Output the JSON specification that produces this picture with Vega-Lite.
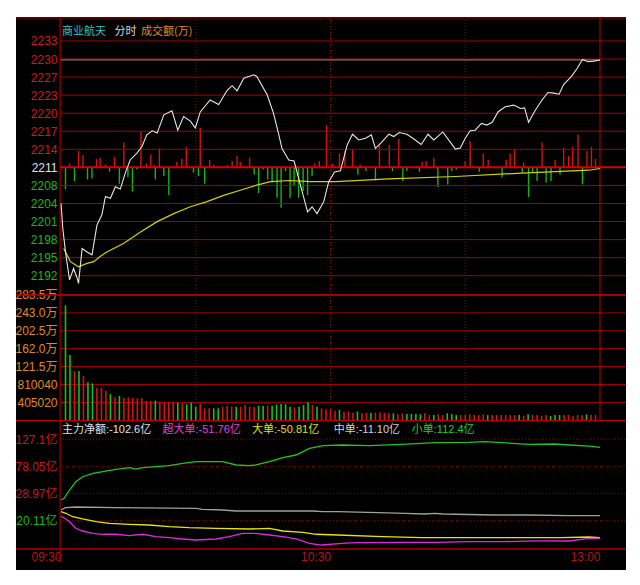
{
"$schema": "https://vega.github.io/schema/vega-lite/v6.json",
"background": "#ffffff",
"padding": {"left": 14, "top": 17, "right": 16, "bottom": 15},
"spacing": 0,
"bounds": "flush",
"resolve": {"scale": {"color": "independent"}},
"config": {"view": {"stroke": null, "fill": "#000000"}, "concat": {"spacing": 0},
 "axis": {"labelOverlap": false, "labelFlush": false, "grid": false, "ticks": false, "domain": false, "title": null, "labelBound": false}},
"datasets": {
"price": [{"m":0,"y":2204.5},{"m":0.4,"y":2200.1},{"m":1,"y":2196.0},{"m":1.9,"y":2191.1},{"m":2.8,"y":2193.1},{"m":3.6,"y":2191.4},{"m":3.9,"y":2190.5},{"m":4.7,"y":2196.6},{"m":5.8,"y":2196.0},{"m":6.9,"y":2195.5},{"m":8,"y":2200.7},{"m":9.1,"y":2202.5},{"m":9.9,"y":2205.7},{"m":11,"y":2205.4},{"m":12.1,"y":2207.4},{"m":13.2,"y":2207.0},{"m":14.3,"y":2209.8},{"m":15.4,"y":2212.1},{"m":16.9,"y":2213.3},{"m":18,"y":2214.4},{"m":19.1,"y":2216.5},{"m":20.3,"y":2217.2},{"m":21.4,"y":2216.8},{"m":22.9,"y":2220.0},{"m":24.7,"y":2220.7},{"m":26,"y":2217.3},{"m":27.3,"y":2219.7},{"m":28.8,"y":2218.9},{"m":29.9,"y":2217.7},{"m":31,"y":2220.5},{"m":33.2,"y":2222.6},{"m":35.1,"y":2221.8},{"m":37,"y":2224.3},{"m":38.1,"y":2225.1},{"m":39.2,"y":2224.2},{"m":40.7,"y":2226.4},{"m":42.9,"y":2227.0},{"m":43.6,"y":2226.7},{"m":45.9,"y":2223.5},{"m":47.3,"y":2220.3},{"m":48.5,"y":2216.5},{"m":49.2,"y":2214.1},{"m":50.7,"y":2212.1},{"m":51.9,"y":2211.9},{"m":53.3,"y":2207.7},{"m":54.9,"y":2203.0},{"m":55.9,"y":2203.9},{"m":57,"y":2202.7},{"m":58.5,"y":2204.8},{"m":59.6,"y":2208.3},{"m":60.9,"y":2210.0},{"m":62.2,"y":2210.2},{"m":63.7,"y":2214.7},{"m":64.9,"y":2216.6},{"m":66.3,"y":2215.6},{"m":67.8,"y":2215.9},{"m":69.1,"y":2216.5},{"m":70,"y":2214.1},{"m":71.5,"y":2215.3},{"m":73,"y":2216.6},{"m":74.1,"y":2216.2},{"m":75.3,"y":2216.9},{"m":77,"y":2216.6},{"m":78.5,"y":2215.8},{"m":80.2,"y":2214.8},{"m":81.7,"y":2216.6},{"m":83,"y":2215.6},{"m":85,"y":2217.0},{"m":86.3,"y":2215.6},{"m":87.8,"y":2214.0},{"m":88.9,"y":2214.2},{"m":90,"y":2215.9},{"m":91.1,"y":2217.2},{"m":92.2,"y":2217.3},{"m":93.6,"y":2218.5},{"m":94.8,"y":2218.2},{"m":96,"y":2218.7},{"m":97.3,"y":2220.5},{"m":98.9,"y":2221.4},{"m":100.8,"y":2221.7},{"m":102.3,"y":2221.1},{"m":103.2,"y":2221.2},{"m":104.1,"y":2218.7},{"m":105.6,"y":2220.8},{"m":107.1,"y":2222.6},{"m":108.4,"y":2223.9},{"m":109.7,"y":2223.8},{"m":110.9,"y":2223.6},{"m":111.9,"y":2225.3},{"m":113.6,"y":2226.7},{"m":114.9,"y":2228.1},{"m":116.1,"y":2229.7},{"m":117.3,"y":2229.3},{"m":118.6,"y":2229.4},{"m":120,"y":2229.6}],
"avg": [{"m":0.6,"y":2196.6},{"m":2.1,"y":2194.3},{"m":3.9,"y":2193.4},{"m":5.8,"y":2194.0},{"m":7.3,"y":2194.3},{"m":8.7,"y":2195.2},{"m":10.2,"y":2196.0},{"m":14,"y":2197.5},{"m":17.7,"y":2199.5},{"m":21.4,"y":2201.3},{"m":25.1,"y":2202.7},{"m":28.8,"y":2203.9},{"m":32.5,"y":2204.8},{"m":36.2,"y":2205.9},{"m":39.9,"y":2206.8},{"m":43.6,"y":2207.7},{"m":46.6,"y":2208.3},{"m":51,"y":2208.5},{"m":55.5,"y":2208.3},{"m":61.1,"y":2208.3},{"m":73,"y":2208.8},{"m":87.8,"y":2209.2},{"m":102.6,"y":2209.8},{"m":117.5,"y":2210.3},{"m":120,"y":2210.6}],
"pgrid": [{"y":2191.84},{"y":2195.0},{"y":2198.16},{"y":2201.32},{"y":2204.48},{"y":2207.64},{"y":2213.96},{"y":2217.12},{"y":2220.28},{"y":2223.44},{"y":2226.6},{"y":2229.76},{"y":2232.92}],
"str": [{"m":1.9,"s":4.3},{"m":3.9,"s":16.7},{"m":4.9,"s":12.7},{"m":7.9,"s":8.7},{"m":8.7,"s":10},{"m":9.9,"s":3.3},{"m":11.9,"s":11},{"m":14,"s":25.3},{"m":17.8,"s":36.7},{"m":19,"s":4.3},{"m":20,"s":13.3},{"m":20.8,"s":2.7},{"m":21.9,"s":19.3},{"m":25.8,"s":6},{"m":26.9,"s":9.3},{"m":27.9,"s":21},{"m":31,"s":40},{"m":33.1,"s":7.7},{"m":34,"s":2.7},{"m":35.1,"s":2},{"m":37,"s":2.7},{"m":38.1,"s":6.7},{"m":39.2,"s":12},{"m":39.9,"s":6},{"m":42,"s":10},{"m":56.5,"s":4.3},{"m":57.5,"s":6.7},{"m":59.1,"s":42.7},{"m":60.5,"s":4.3},{"m":62,"s":14.3},{"m":63.2,"s":16.7},{"m":64.9,"s":17.7},{"m":66.6,"s":3.3},{"m":70.9,"s":22.7},{"m":73.1,"s":22.7},{"m":75.2,"s":28.7},{"m":79.3,"s":2},{"m":80.4,"s":6},{"m":81.3,"s":6.7},{"m":83,"s":10},{"m":90,"s":6.7},{"m":91.1,"s":26.7},{"m":94,"s":14.3},{"m":95.1,"s":7.7},{"m":99.1,"s":7.7},{"m":100,"s":14.3},{"m":101,"s":17.7},{"m":103,"s":5.3},{"m":107.1,"s":25.3},{"m":110,"s":7.7},{"m":111.9,"s":20},{"m":113,"s":12},{"m":113.9,"s":21},{"m":115.1,"s":33.3},{"m":117.1,"s":16.7},{"m":118.1,"s":21},{"m":119,"s":8.7},
{"m":1,"s":-21.7},{"m":3,"s":-13.3},{"m":5.9,"s":-11.7},{"m":6.9,"s":-10.7},{"m":10.8,"s":-4},{"m":13,"s":-16},{"m":14.9,"s":-9.3},{"m":15.9,"s":-24},{"m":16.9,"s":-1.7},{"m":21,"s":-11.7},{"m":22.9,"s":-8.3},{"m":24,"s":-27.3},{"m":29.5,"s":-5},{"m":30.6,"s":-8.3},{"m":32,"s":-16},{"m":43,"s":-6.7},{"m":44,"s":-25.3},{"m":45,"s":-1.7},{"m":46,"s":-11.7},{"m":47,"s":-15},{"m":48.1,"s":-30},{"m":49,"s":-40},{"m":50,"s":-3.3},{"m":51,"s":-30},{"m":51.9,"s":-18.3},{"m":52.9,"s":-30},{"m":53.9,"s":-23.3},{"m":54.9,"s":-27.3},{"m":55.9,"s":-8.3},{"m":66.1,"s":-6.7},{"m":67.9,"s":-3.3},{"m":70,"s":-12.7},{"m":73.8,"s":-3.3},{"m":76.1,"s":-13.3},{"m":77,"s":-3.3},{"m":79.8,"s":-4},{"m":83.9,"s":-19.3},{"m":86.1,"s":-16.7},{"m":87,"s":-3.3},{"m":88,"s":-1.7},{"m":93.1,"s":-4},{"m":98.2,"s":-9.7},{"m":102.7,"s":-5},{"m":104.1,"s":-29.3},{"m":105,"s":-5},{"m":106,"s":-13.3},{"m":108,"s":-15},{"m":109.1,"s":-13.3},{"m":111.1,"s":-6.7},{"m":116.1,"s":-16.7}],
"vol": [{"m":1,"y":2600000,"d":"g"},{"m":2,"y":1476000,"d":"g"},{"m":3,"y":1114000,"d":"r"},{"m":4,"y":1114000,"d":"g"},{"m":5,"y":1002000,"d":"r"},{"m":6,"y":858000,"d":"g"},{"m":7,"y":836000,"d":"g"},{"m":8,"y":738000,"d":"r"},{"m":9,"y":738000,"d":"r"},{"m":10,"y":663000,"d":"r"},{"m":11,"y":595000,"d":"g"},{"m":12,"y":520000,"d":"r"},{"m":13,"y":550000,"d":"g"},{"m":14,"y":512000,"d":"r"},{"m":15,"y":520000,"d":"r"},{"m":16,"y":512000,"d":"r"},{"m":17,"y":497000,"d":"r"},{"m":18,"y":497000,"d":"r"},{"m":19,"y":437000,"d":"r"},{"m":20,"y":437000,"d":"r"},{"m":21,"y":444000,"d":"g"},{"m":22,"y":422000,"d":"r"},{"m":23,"y":407000,"d":"r"},{"m":24,"y":407000,"d":"r"},{"m":25,"y":422000,"d":"r"},{"m":26,"y":399000,"d":"g"},{"m":27,"y":384000,"d":"r"},{"m":28,"y":361000,"d":"g"},{"m":29,"y":399000,"d":"g"},{"m":30,"y":309000,"d":"g"},{"m":31,"y":369000,"d":"r"},{"m":32,"y":271000,"d":"r"},{"m":33,"y":271000,"d":"r"},{"m":34,"y":271000,"d":"g"},{"m":35,"y":271000,"d":"g"},{"m":36,"y":309000,"d":"r"},{"m":37,"y":324000,"d":"r"},{"m":38,"y":309000,"d":"r"},{"m":39,"y":309000,"d":"g"},{"m":40,"y":309000,"d":"r"},{"m":41,"y":346000,"d":"r"},{"m":42,"y":309000,"d":"r"},{"m":43,"y":309000,"d":"r"},{"m":44,"y":331000,"d":"g"},{"m":45,"y":324000,"d":"g"},{"m":46,"y":324000,"d":"r"},{"m":47,"y":331000,"d":"g"},{"m":48,"y":361000,"d":"g"},{"m":49,"y":369000,"d":"g"},{"m":50,"y":361000,"d":"g"},{"m":51,"y":309000,"d":"g"},{"m":52,"y":294000,"d":"r"},{"m":53,"y":309000,"d":"g"},{"m":54,"y":346000,"d":"g"},{"m":55,"y":407000,"d":"g"},{"m":56,"y":346000,"d":"r"},{"m":57,"y":309000,"d":"g"},{"m":58,"y":271000,"d":"r"},{"m":59,"y":248000,"d":"r"},{"m":60,"y":248000,"d":"r"},{"m":61,"y":218000,"d":"r"},{"m":62,"y":233000,"d":"g"},{"m":63,"y":196000,"d":"r"},{"m":64,"y":196000,"d":"r"},{"m":65,"y":173000,"d":"r"},{"m":66,"y":196000,"d":"g"},{"m":67,"y":158000,"d":"r"},{"m":68,"y":173000,"d":"r"},{"m":69,"y":173000,"d":"g"},{"m":70,"y":173000,"d":"r"},{"m":71,"y":180000,"d":"r"},{"m":72,"y":173000,"d":"r"},{"m":73,"y":158000,"d":"r"},{"m":74,"y":158000,"d":"g"},{"m":75,"y":136000,"d":"r"},{"m":76,"y":158000,"d":"r"},{"m":77,"y":143000,"d":"g"},{"m":78,"y":143000,"d":"g"},{"m":79,"y":143000,"d":"g"},{"m":80,"y":136000,"d":"g"},{"m":81,"y":158000,"d":"r"},{"m":82,"y":120000,"d":"r"},{"m":83,"y":120000,"d":"g"},{"m":84,"y":136000,"d":"r"},{"m":85,"y":120000,"d":"r"},{"m":86,"y":158000,"d":"g"},{"m":87,"y":143000,"d":"g"},{"m":88,"y":120000,"d":"g"},{"m":89,"y":120000,"d":"r"},{"m":90,"y":120000,"d":"r"},{"m":91,"y":136000,"d":"r"},{"m":92,"y":120000,"d":"r"},{"m":93,"y":120000,"d":"r"},{"m":94,"y":136000,"d":"r"},{"m":95,"y":120000,"d":"g"},{"m":96,"y":120000,"d":"r"},{"m":97,"y":120000,"d":"r"},{"m":98,"y":120000,"d":"r"},{"m":99,"y":120000,"d":"r"},{"m":100,"y":120000,"d":"r"},{"m":101,"y":120000,"d":"r"},{"m":102,"y":120000,"d":"g"},{"m":103,"y":105000,"d":"r"},{"m":104,"y":136000,"d":"g"},{"m":105,"y":120000,"d":"r"},{"m":106,"y":120000,"d":"r"},{"m":107,"y":105000,"d":"r"},{"m":108,"y":120000,"d":"r"},{"m":109,"y":98000,"d":"g"},{"m":110,"y":120000,"d":"g"},{"m":111,"y":120000,"d":"g"},{"m":112,"y":120000,"d":"r"},{"m":113,"y":120000,"d":"r"},{"m":114,"y":105000,"d":"r"},{"m":115,"y":120000,"d":"r"},{"m":116,"y":120000,"d":"r"},{"m":117,"y":136000,"d":"g"},{"m":118,"y":120000,"d":"r"},{"m":119,"y":120000,"d":"r"}],
"vgrid": [{"y":405020},{"y":810040},{"y":1215060},{"y":1620080},{"y":2025100},{"y":2430120},{"y":2835140}],
"fgrid": [{"y":127.1},{"y":78.05},{"y":28.97},{"y":-20.11}],
"vlines": [{"m":30},{"m":60},{"m":90}],
"edges": [{"m":-0.2},{"m":120}],
"flow": [
{"m":0,"k":"small","y":17.3},{"m":0.7,"k":"small","y":20.3},{"m":1.9,"k":"small","y":35.3},{"m":3.3,"k":"small","y":50.3},{"m":4.8,"k":"small","y":59.3},{"m":7.1,"k":"small","y":65.5},{"m":9.3,"k":"small","y":68.4},{"m":12.2,"k":"small","y":72.7},{"m":15.2,"k":"small","y":75.6},{"m":16.7,"k":"small","y":73.2},{"m":18.2,"k":"small","y":75.6},{"m":21.1,"k":"small","y":77.4},{"m":24.1,"k":"small","y":79.2},{"m":27.1,"k":"small","y":83.5},{"m":30.1,"k":"small","y":86.4},{"m":36,"k":"small","y":86.4},{"m":39,"k":"small","y":80.5},{"m":41.9,"k":"small","y":79.2},{"m":43.4,"k":"small","y":80.5},{"m":46.4,"k":"small","y":86.4},{"m":49.4,"k":"small","y":93.6},{"m":52.3,"k":"small","y":98.5},{"m":55.3,"k":"small","y":110.6},{"m":58.3,"k":"small","y":115.3},{"m":62.6,"k":"small","y":116.6},{"m":68.6,"k":"small","y":115.3},{"m":75.9,"k":"small","y":117.8},{"m":83.3,"k":"small","y":120.7},{"m":90.8,"k":"small","y":121.4},{"m":94.4,"k":"small","y":122.5},{"m":98.2,"k":"small","y":120.7},{"m":104.2,"k":"small","y":117.8},{"m":110,"k":"small","y":118.4},{"m":113.1,"k":"small","y":116.6},{"m":117.6,"k":"small","y":114.7},{"m":120,"k":"small","y":112.4},
{"m":0,"k":"mid","y":-0.8},{"m":1,"k":"mid","y":3.4},{"m":3.3,"k":"mid","y":4.6},{"m":12.2,"k":"mid","y":3.4},{"m":30.1,"k":"mid","y":2.3},{"m":31.5,"k":"mid","y":0.5},{"m":36,"k":"mid","y":-0.8},{"m":39,"k":"mid","y":-2.6},{"m":49.4,"k":"mid","y":-2.6},{"m":56,"k":"mid","y":-2.6},{"m":58.3,"k":"mid","y":-3.8},{"m":61.6,"k":"mid","y":-3.8},{"m":70.5,"k":"mid","y":-5.6},{"m":76.6,"k":"mid","y":-6.8},{"m":80.8,"k":"mid","y":-8.0},{"m":83.3,"k":"mid","y":-7.0},{"m":85,"k":"mid","y":-8.0},{"m":96.4,"k":"mid","y":-9.8},{"m":104,"k":"mid","y":-9.8},{"m":113,"k":"mid","y":-11.1},{"m":120,"k":"mid","y":-11.1},
{"m":0,"k":"large","y":-3.8},{"m":1.1,"k":"large","y":-6.7},{"m":2.6,"k":"large","y":-12.9},{"m":4.8,"k":"large","y":-17.0},{"m":7.8,"k":"large","y":-21.9},{"m":10.8,"k":"large","y":-24.8},{"m":15.2,"k":"large","y":-26.6},{"m":19.6,"k":"large","y":-27.9},{"m":24.1,"k":"large","y":-30.9},{"m":28.5,"k":"large","y":-32.7},{"m":34.5,"k":"large","y":-33.8},{"m":41.9,"k":"large","y":-35.1},{"m":46.4,"k":"large","y":-33.8},{"m":49.4,"k":"large","y":-38.7},{"m":53.8,"k":"large","y":-41.0},{"m":56.8,"k":"large","y":-44.6},{"m":61.6,"k":"large","y":-45.9},{"m":71.5,"k":"large","y":-49.0},{"m":80.4,"k":"large","y":-50.8},{"m":98.2,"k":"large","y":-50.8},{"m":111.3,"k":"large","y":-50.8},{"m":117.6,"k":"large","y":-49.5},{"m":120,"k":"large","y":-50.8},
{"m":0,"k":"xl","y":-12.9},{"m":0.7,"k":"xl","y":-14.7},{"m":1.9,"k":"xl","y":-21.9},{"m":3.3,"k":"xl","y":-33.8},{"m":4.8,"k":"xl","y":-38.7},{"m":7.1,"k":"xl","y":-42.8},{"m":9.3,"k":"xl","y":-44.6},{"m":12.2,"k":"xl","y":-44.6},{"m":15.2,"k":"xl","y":-47.2},{"m":18.2,"k":"xl","y":-44.6},{"m":21.1,"k":"xl","y":-49.0},{"m":24.1,"k":"xl","y":-50.8},{"m":27.1,"k":"xl","y":-53.1},{"m":30.1,"k":"xl","y":-54.9},{"m":34.5,"k":"xl","y":-53.1},{"m":37.5,"k":"xl","y":-49.0},{"m":40.4,"k":"xl","y":-42.8},{"m":43.4,"k":"xl","y":-43.0},{"m":46.4,"k":"xl","y":-45.9},{"m":49.4,"k":"xl","y":-49.0},{"m":52.3,"k":"xl","y":-53.1},{"m":53.7,"k":"xl","y":-56.7},{"m":55.3,"k":"xl","y":-60.9},{"m":58,"k":"xl","y":-64.0},{"m":62.6,"k":"xl","y":-60.9},{"m":65.6,"k":"xl","y":-59.8},{"m":68.6,"k":"xl","y":-59.8},{"m":75.9,"k":"xl","y":-59.1},{"m":83.3,"k":"xl","y":-59.1},{"m":90.8,"k":"xl","y":-58.0},{"m":98.2,"k":"xl","y":-58.0},{"m":105.6,"k":"xl","y":-56.7},{"m":113.1,"k":"xl","y":-56.7},{"m":117.6,"k":"xl","y":-51.9},{"m":120,"k":"xl","y":-51.9}]
},
"vconcat": [
{
"width": 610, "height": 268,
"resolve": {"scale": {"y": "independent"}},
"layer": [
 {"data": {"name": "str"},
  "mark": {"type": "rule", "strokeWidth": 1.4},
  "encoding": {
   "x": {"field": "m", "type": "quantitative", "scale": {"domain": [-10.02, 125.79], "nice": false, "zero": false}, "axis": null},
   "y": {"field": "s", "type": "quantitative", "scale": {"domain": [-117.3, 150.7], "nice": false, "zero": false}, "axis": null},
   "y2": {"datum": 0},
   "color": {"condition": {"test": "datum.s > 0", "value": "#d41414"}, "value": "#16b416"}
  }},
 {"layer": [
   {"data": {"name": "pgrid"}, "mark": {"type": "rule", "strokeWidth": 1, "color": "#a80000"},
    "encoding": {
     "x": {"datum": -0.2, "type": "quantitative", "scale": {"domain": [-10.02, 125.79], "nice": false, "zero": false}, "axis": null},
     "x2": {"datum": 125.79},
     "y": {"field": "y", "type": "quantitative", "scale": {"domain": [2190.21, 2237.12], "nice": false, "zero": false},
      "axis": {"orient": "left", "offset": -45, "title": null, "values": [2191.84, 2195.0, 2198.16, 2201.32, 2204.48, 2207.64, 2210.8, 2213.96, 2217.12, 2220.28, 2223.44, 2226.6, 2229.76, 2232.92], "labelExpr": "format(datum.value, '.0f')", "labelPadding": 4, "labelFont": "Liberation Sans", "labelFontSize": 12, "labelOverlap": false, "labelColor": {"condition": [{"test": "datum.value > 2211", "value": "#d41818"}, {"test": "datum.value < 2210", "value": "#18b818"}], "value": "#e0e0e0"}}}}},
   {"data": {"values": [{}]}, "mark": {"type": "rule", "color": "#d80000", "strokeWidth": 2},
    "encoding": {"x": {"datum": -0.2, "type": "quantitative", "axis": null}, "x2": {"datum": 125.79},
     "y": {"datum": 2210.8, "type": "quantitative", "axis": {"orient": "left", "offset": -45, "title": null, "values": [2191.84, 2195.0, 2198.16, 2201.32, 2204.48, 2207.64, 2210.8, 2213.96, 2217.12, 2220.28, 2223.44, 2226.6, 2229.76, 2232.92], "labelExpr": "format(datum.value, '.0f')", "labelPadding": 4, "labelFont": "Liberation Sans", "labelFontSize": 12, "labelOverlap": false, "labelColor": {"condition": [{"test": "datum.value > 2211", "value": "#d41818"}, {"test": "datum.value < 2210", "value": "#18b818"}], "value": "#e0e0e0"}}}}},
   {"data": {"values": [{}]}, "mark": {"type": "rule", "color": "#b00000", "strokeWidth": 1},
    "encoding": {"x": {"datum": -10.02, "type": "quantitative", "axis": null}, "x2": {"datum": 125.79},
     "y": {"datum": 2236.95, "type": "quantitative", "axis": {"orient": "left", "offset": -45, "title": null, "values": [2191.84, 2195.0, 2198.16, 2201.32, 2204.48, 2207.64, 2210.8, 2213.96, 2217.12, 2220.28, 2223.44, 2226.6, 2229.76, 2232.92], "labelExpr": "format(datum.value, '.0f')", "labelPadding": 4, "labelFont": "Liberation Sans", "labelFontSize": 12, "labelOverlap": false, "labelColor": {"condition": [{"test": "datum.value > 2211", "value": "#d41818"}, {"test": "datum.value < 2210", "value": "#18b818"}], "value": "#e0e0e0"}}}}},
   {"data": {"name": "vlines"}, "mark": {"type": "rule", "color": "#a00000", "strokeDash": [1, 2]},
    "encoding": {"x": {"field": "m", "type": "quantitative", "axis": null},
     "y": {"datum": 2190.21, "type": "quantitative", "axis": {"orient": "left", "offset": -45, "title": null, "values": [2191.84, 2195.0, 2198.16, 2201.32, 2204.48, 2207.64, 2210.8, 2213.96, 2217.12, 2220.28, 2223.44, 2226.6, 2229.76, 2232.92], "labelExpr": "format(datum.value, '.0f')", "labelPadding": 4, "labelFont": "Liberation Sans", "labelFontSize": 12, "labelOverlap": false, "labelColor": {"condition": [{"test": "datum.value > 2211", "value": "#d41818"}, {"test": "datum.value < 2210", "value": "#18b818"}], "value": "#e0e0e0"}}}, "y2": {"datum": 2236.95}}},
   {"data": {"name": "edges"}, "mark": {"type": "rule", "color": "#c00000"},
    "encoding": {"x": {"field": "m", "type": "quantitative", "axis": null},
     "y": {"datum": 2190.21, "type": "quantitative", "axis": {"orient": "left", "offset": -45, "title": null, "values": [2191.84, 2195.0, 2198.16, 2201.32, 2204.48, 2207.64, 2210.8, 2213.96, 2217.12, 2220.28, 2223.44, 2226.6, 2229.76, 2232.92], "labelExpr": "format(datum.value, '.0f')", "labelPadding": 4, "labelFont": "Liberation Sans", "labelFontSize": 12, "labelOverlap": false, "labelColor": {"condition": [{"test": "datum.value > 2211", "value": "#d41818"}, {"test": "datum.value < 2210", "value": "#18b818"}], "value": "#e0e0e0"}}}, "y2": {"datum": 2236.95}}},
   {"data": {"values": [{}]}, "mark": {"type": "rule", "color": "#8c8c8c"},
    "encoding": {"x": {"datum": 0, "type": "quantitative", "axis": null}, "x2": {"datum": 120},
     "y": {"datum": 2229.6, "type": "quantitative", "axis": {"orient": "left", "offset": -45, "title": null, "values": [2191.84, 2195.0, 2198.16, 2201.32, 2204.48, 2207.64, 2210.8, 2213.96, 2217.12, 2220.28, 2223.44, 2226.6, 2229.76, 2232.92], "labelExpr": "format(datum.value, '.0f')", "labelPadding": 4, "labelFont": "Liberation Sans", "labelFontSize": 12, "labelOverlap": false, "labelColor": {"condition": [{"test": "datum.value > 2211", "value": "#d41818"}, {"test": "datum.value < 2210", "value": "#18b818"}], "value": "#e0e0e0"}}}}},
   {"data": {"name": "avg"}, "mark": {"type": "line", "color": "#d2d200", "strokeWidth": 1.2},
    "encoding": {"x": {"field": "m", "type": "quantitative", "axis": null},
     "y": {"field": "y", "type": "quantitative", "axis": {"orient": "left", "offset": -45, "title": null, "values": [2191.84, 2195.0, 2198.16, 2201.32, 2204.48, 2207.64, 2210.8, 2213.96, 2217.12, 2220.28, 2223.44, 2226.6, 2229.76, 2232.92], "labelExpr": "format(datum.value, '.0f')", "labelPadding": 4, "labelFont": "Liberation Sans", "labelFontSize": 12, "labelOverlap": false, "labelColor": {"condition": [{"test": "datum.value > 2211", "value": "#d41818"}, {"test": "datum.value < 2210", "value": "#18b818"}], "value": "#e0e0e0"}}}}},
   {"data": {"name": "price"}, "mark": {"type": "line", "color": "#e6e6e6", "strokeWidth": 1.1},
    "encoding": {"x": {"field": "m", "type": "quantitative", "axis": null},
     "y": {"field": "y", "type": "quantitative", "axis": {"orient": "left", "offset": -45, "title": null, "values": [2191.84, 2195.0, 2198.16, 2201.32, 2204.48, 2207.64, 2210.8, 2213.96, 2217.12, 2220.28, 2223.44, 2226.6, 2229.76, 2232.92], "labelExpr": "format(datum.value, '.0f')", "labelPadding": 4, "labelFont": "Liberation Sans", "labelFontSize": 12, "labelOverlap": false, "labelColor": {"condition": [{"test": "datum.value > 2211", "value": "#d41818"}, {"test": "datum.value < 2210", "value": "#18b818"}], "value": "#e0e0e0"}}}}},
   {"data": {"values": [{}]}, "mark": {"type": "text", "text": "商业航天", "align": "left", "baseline": "middle", "font": "Noto Sans CJK SC", "fontSize": 11, "color": "#30c4c4"},
    "encoding": {"x": {"datum": 0.22, "type": "quantitative", "axis": null},
     "y": {"datum": 2234.5, "type": "quantitative", "axis": {"orient": "left", "offset": -45, "title": null, "values": [2191.84, 2195.0, 2198.16, 2201.32, 2204.48, 2207.64, 2210.8, 2213.96, 2217.12, 2220.28, 2223.44, 2226.6, 2229.76, 2232.92], "labelExpr": "format(datum.value, '.0f')", "labelPadding": 4, "labelFont": "Liberation Sans", "labelFontSize": 12, "labelOverlap": false, "labelColor": {"condition": [{"test": "datum.value > 2211", "value": "#d41818"}, {"test": "datum.value < 2210", "value": "#18b818"}], "value": "#e0e0e0"}}}}},
   {"data": {"values": [{}]}, "mark": {"type": "text", "text": "分时", "align": "left", "baseline": "middle", "font": "Noto Sans CJK SC", "fontSize": 11, "color": "#d8d8d8"},
    "encoding": {"x": {"datum": 11.9, "type": "quantitative", "axis": null},
     "y": {"datum": 2234.5, "type": "quantitative", "axis": {"orient": "left", "offset": -45, "title": null, "values": [2191.84, 2195.0, 2198.16, 2201.32, 2204.48, 2207.64, 2210.8, 2213.96, 2217.12, 2220.28, 2223.44, 2226.6, 2229.76, 2232.92], "labelExpr": "format(datum.value, '.0f')", "labelPadding": 4, "labelFont": "Liberation Sans", "labelFontSize": 12, "labelOverlap": false, "labelColor": {"condition": [{"test": "datum.value > 2211", "value": "#d41818"}, {"test": "datum.value < 2210", "value": "#18b818"}], "value": "#e0e0e0"}}}}},
   {"data": {"values": [{}]}, "mark": {"type": "text", "text": "成交额(万)", "align": "left", "baseline": "middle", "font": "Noto Sans CJK SC", "fontSize": 11, "color": "#e08a1e"},
    "encoding": {"x": {"datum": 17.8, "type": "quantitative", "axis": null},
     "y": {"datum": 2234.5, "type": "quantitative", "axis": {"orient": "left", "offset": -45, "title": null, "values": [2191.84, 2195.0, 2198.16, 2201.32, 2204.48, 2207.64, 2210.8, 2213.96, 2217.12, 2220.28, 2223.44, 2226.6, 2229.76, 2232.92], "labelExpr": "format(datum.value, '.0f')", "labelPadding": 4, "labelFont": "Liberation Sans", "labelFontSize": 12, "labelOverlap": false, "labelColor": {"condition": [{"test": "datum.value > 2211", "value": "#d41818"}, {"test": "datum.value < 2210", "value": "#18b818"}], "value": "#e0e0e0"}}}}}
 ]}
]
},
{
"width": 610, "height": 136,
"layer": [
 {"data": {"name": "vgrid"}, "mark": {"type": "rule", "color": "#a80000", "strokeWidth": 1},
  "encoding": {
   "x": {"datum": -0.2, "type": "quantitative", "scale": {"domain": [-10.02, 125.79], "nice": false, "zero": false}, "axis": null},
   "x2": {"datum": 125.79},
   "y": {"field": "y", "type": "quantitative", "scale": {"domain": [-16000, 3061000], "nice": false, "zero": false},
    "axis": {"orient": "left", "offset": -45, "title": null, "values": [405020, 810040, 1215060, 1620080, 2025100, 2430120, 2835140], "labelExpr": "datum.value >= 1000000 ? format(datum.value / 10000, '.1f') + '万' : format(datum.value, 'd')", "labelPadding": 4, "labelFont": "Liberation Sans, Noto Sans CJK SC", "labelFontSize": 12, "labelOverlap": false, "labelColor": "#e08a1e"}}}},
 {"data": {"values": [{}]}, "mark": {"type": "rule", "color": "#c00000", "strokeWidth": 1.5},
  "encoding": {"x": {"datum": -10.02, "type": "quantitative", "axis": null}, "x2": {"datum": 125.79},
   "y": {"datum": 2835140, "type": "quantitative", "axis": {"orient": "left", "offset": -45, "title": null, "values": [405020, 810040, 1215060, 1620080, 2025100, 2430120, 2835140], "labelExpr": "datum.value >= 1000000 ? format(datum.value / 10000, '.1f') + '万' : format(datum.value, 'd')", "labelPadding": 4, "labelFont": "Liberation Sans, Noto Sans CJK SC", "labelFontSize": 12, "labelOverlap": false, "labelColor": "#e08a1e"}}}},
 {"data": {"name": "vlines"}, "mark": {"type": "rule", "color": "#a00000", "strokeDash": [1, 2]},
  "encoding": {"x": {"field": "m", "type": "quantitative", "axis": null},
   "y": {"datum": -16000, "type": "quantitative", "axis": {"orient": "left", "offset": -45, "title": null, "values": [405020, 810040, 1215060, 1620080, 2025100, 2430120, 2835140], "labelExpr": "datum.value >= 1000000 ? format(datum.value / 10000, '.1f') + '万' : format(datum.value, 'd')", "labelPadding": 4, "labelFont": "Liberation Sans, Noto Sans CJK SC", "labelFontSize": 12, "labelOverlap": false, "labelColor": "#e08a1e"}}, "y2": {"datum": 3061000}}},
 {"data": {"name": "edges"}, "mark": {"type": "rule", "color": "#c00000"},
  "encoding": {"x": {"field": "m", "type": "quantitative", "axis": null},
   "y": {"datum": -16000, "type": "quantitative", "axis": {"orient": "left", "offset": -45, "title": null, "values": [405020, 810040, 1215060, 1620080, 2025100, 2430120, 2835140], "labelExpr": "datum.value >= 1000000 ? format(datum.value / 10000, '.1f') + '万' : format(datum.value, 'd')", "labelPadding": 4, "labelFont": "Liberation Sans, Noto Sans CJK SC", "labelFontSize": 12, "labelOverlap": false, "labelColor": "#e08a1e"}}, "y2": {"datum": 3061000}}},
 {"data": {"name": "vol"}, "mark": {"type": "rule", "strokeWidth": 1.6},
  "encoding": {"x": {"field": "m", "type": "quantitative", "axis": null},
   "y": {"field": "y", "type": "quantitative", "axis": {"orient": "left", "offset": -45, "title": null, "values": [405020, 810040, 1215060, 1620080, 2025100, 2430120, 2835140], "labelExpr": "datum.value >= 1000000 ? format(datum.value / 10000, '.1f') + '万' : format(datum.value, 'd')", "labelPadding": 4, "labelFont": "Liberation Sans, Noto Sans CJK SC", "labelFontSize": 12, "labelOverlap": false, "labelColor": "#e08a1e"}}, "y2": {"datum": 0},
   "color": {"field": "d", "type": "nominal", "scale": {"domain": ["r", "g"], "range": ["#d41414", "#18c018"]}, "legend": null}}},
 {"data": {"values": [{}]}, "mark": {"type": "rule", "color": "#c00000", "strokeWidth": 1.5},
  "encoding": {"x": {"datum": -10.02, "type": "quantitative", "axis": null}, "x2": {"datum": 125.79},
   "y": {"datum": -8000, "type": "quantitative", "axis": {"orient": "left", "offset": -45, "title": null, "values": [405020, 810040, 1215060, 1620080, 2025100, 2430120, 2835140], "labelExpr": "datum.value >= 1000000 ? format(datum.value / 10000, '.1f') + '万' : format(datum.value, 'd')", "labelPadding": 4, "labelFont": "Liberation Sans, Noto Sans CJK SC", "labelFontSize": 12, "labelOverlap": false, "labelColor": "#e08a1e"}}}}
]
},
{
"width": 610, "height": 149,
"layer": [
 {"data": {"name": "fgrid"}, "mark": {"type": "rule", "color": "#a00000", "strokeWidth": 1, "strokeDash": [1, 2]},
  "encoding": {
   "x": {"datum": -0.2, "type": "quantitative", "scale": {"domain": [-10.02, 125.79], "nice": false, "zero": false},
    "axis": {"orient": "bottom", "offset": -21, "title": null, "values": [0, 60, 120], "labelExpr": "datum.value == 0 ? '09:30' : datum.value == 60 ? '10:30' : '13:00'", "labelAlign": "right", "labelBaseline": "top", "labelColor": "#b81414", "labelFont": "Liberation Sans", "labelFontSize": 12, "labelPadding": 2, "labelOverlap": false}},
   "x2": {"datum": 125.79},
   "y": {"field": "y", "type": "quantitative", "scale": {"domain": [-109.1, 159.9], "nice": false, "zero": false},
    "axis": {"orient": "left", "offset": -45, "title": null, "values": [127.1, 78.05, 28.97, -20.11], "labelExpr": "format(abs(datum.value), '.4') + '亿'", "labelPadding": 4, "labelFont": "Liberation Sans, Noto Sans CJK SC", "labelFontSize": 12, "labelOverlap": false, "labelColor": {"condition": {"test": "datum.value > 0", "value": "#c81818"}, "value": "#18b418"}}}}},
 {"data": {"values": [{}]}, "mark": {"type": "rule", "color": "#b00000", "strokeWidth": 1.5},
  "encoding": {
   "x": {"datum": -10.02, "type": "quantitative", "axis": {"orient": "bottom", "offset": -21, "title": null, "values": [0, 60, 120], "labelExpr": "datum.value == 0 ? '09:30' : datum.value == 60 ? '10:30' : '13:00'", "labelAlign": "right", "labelBaseline": "top", "labelColor": "#b81414", "labelFont": "Liberation Sans", "labelFontSize": 12, "labelPadding": 2, "labelOverlap": false}},
   "x2": {"datum": 125.79},
   "y": {"datum": -71.2, "type": "quantitative", "axis": {"orient": "left", "offset": -45, "title": null, "values": [127.1, 78.05, 28.97, -20.11], "labelExpr": "format(abs(datum.value), '.4') + '亿'", "labelPadding": 4, "labelFont": "Liberation Sans, Noto Sans CJK SC", "labelFontSize": 12, "labelOverlap": false, "labelColor": {"condition": {"test": "datum.value > 0", "value": "#c81818"}, "value": "#18b418"}}}}},
 {"data": {"values": [{}]}, "mark": {"type": "rule", "color": "#c00000"},
  "encoding": {
   "x": {"datum": -0.2, "type": "quantitative", "axis": {"orient": "bottom", "offset": -21, "title": null, "values": [0, 60, 120], "labelExpr": "datum.value == 0 ? '09:30' : datum.value == 60 ? '10:30' : '13:00'", "labelAlign": "right", "labelBaseline": "top", "labelColor": "#b81414", "labelFont": "Liberation Sans", "labelFontSize": 12, "labelPadding": 2, "labelOverlap": false}},
   "y": {"datum": -95, "type": "quantitative", "axis": {"orient": "left", "offset": -45, "title": null, "values": [127.1, 78.05, 28.97, -20.11], "labelExpr": "format(abs(datum.value), '.4') + '亿'", "labelPadding": 4, "labelFont": "Liberation Sans, Noto Sans CJK SC", "labelFontSize": 12, "labelOverlap": false, "labelColor": {"condition": {"test": "datum.value > 0", "value": "#c81818"}, "value": "#18b418"}}},
   "y2": {"datum": 159.9}}},
 {"data": {"name": "flow"}, "mark": {"type": "line", "strokeWidth": 1.3},
  "encoding": {
   "x": {"field": "m", "type": "quantitative", "axis": {"orient": "bottom", "offset": -21, "title": null, "values": [0, 60, 120], "labelExpr": "datum.value == 0 ? '09:30' : datum.value == 60 ? '10:30' : '13:00'", "labelAlign": "right", "labelBaseline": "top", "labelColor": "#b81414", "labelFont": "Liberation Sans", "labelFontSize": 12, "labelPadding": 2, "labelOverlap": false}},
   "y": {"field": "y", "type": "quantitative", "axis": {"orient": "left", "offset": -45, "title": null, "values": [127.1, 78.05, 28.97, -20.11], "labelExpr": "format(abs(datum.value), '.4') + '亿'", "labelPadding": 4, "labelFont": "Liberation Sans, Noto Sans CJK SC", "labelFontSize": 12, "labelOverlap": false, "labelColor": {"condition": {"test": "datum.value > 0", "value": "#c81818"}, "value": "#18b418"}}},
   "color": {"field": "k", "type": "nominal", "scale": {"domain": ["small", "mid", "large", "xl"], "range": ["#22c422", "#a0a0a0", "#e6e600", "#e028e0"]}, "legend": null}}},
 {"data": {"values": [{}]}, "mark": {"type": "text", "text": "主力净额:-102.6亿", "align": "left", "baseline": "middle", "font": "Liberation Sans, Noto Sans CJK SC", "fontSize": 11, "color": "#e0e0e0"},
  "encoding": {
   "x": {"datum": 0.22, "type": "quantitative", "axis": {"orient": "bottom", "offset": -21, "title": null, "values": [0, 60, 120], "labelExpr": "datum.value == 0 ? '09:30' : datum.value == 60 ? '10:30' : '13:00'", "labelAlign": "right", "labelBaseline": "top", "labelColor": "#b81414", "labelFont": "Liberation Sans", "labelFontSize": 12, "labelPadding": 2, "labelOverlap": false}},
   "y": {"datum": 143.6, "type": "quantitative", "axis": {"orient": "left", "offset": -45, "title": null, "values": [127.1, 78.05, 28.97, -20.11], "labelExpr": "format(abs(datum.value), '.4') + '亿'", "labelPadding": 4, "labelFont": "Liberation Sans, Noto Sans CJK SC", "labelFontSize": 12, "labelOverlap": false, "labelColor": {"condition": {"test": "datum.value > 0", "value": "#c81818"}, "value": "#18b418"}}}}},
 {"data": {"values": [{}]}, "mark": {"type": "text", "text": "超大单:-51.76亿", "align": "left", "baseline": "middle", "font": "Liberation Sans, Noto Sans CJK SC", "fontSize": 11, "color": "#e040e0"},
  "encoding": {
   "x": {"datum": 22.6, "type": "quantitative", "axis": {"orient": "bottom", "offset": -21, "title": null, "values": [0, 60, 120], "labelExpr": "datum.value == 0 ? '09:30' : datum.value == 60 ? '10:30' : '13:00'", "labelAlign": "right", "labelBaseline": "top", "labelColor": "#b81414", "labelFont": "Liberation Sans", "labelFontSize": 12, "labelPadding": 2, "labelOverlap": false}},
   "y": {"datum": 143.6, "type": "quantitative", "axis": {"orient": "left", "offset": -45, "title": null, "values": [127.1, 78.05, 28.97, -20.11], "labelExpr": "format(abs(datum.value), '.4') + '亿'", "labelPadding": 4, "labelFont": "Liberation Sans, Noto Sans CJK SC", "labelFontSize": 12, "labelOverlap": false, "labelColor": {"condition": {"test": "datum.value > 0", "value": "#c81818"}, "value": "#18b418"}}}}},
 {"data": {"values": [{}]}, "mark": {"type": "text", "text": "大单:-50.81亿", "align": "left", "baseline": "middle", "font": "Liberation Sans, Noto Sans CJK SC", "fontSize": 11, "color": "#e0e000"},
  "encoding": {
   "x": {"datum": 42.5, "type": "quantitative", "axis": {"orient": "bottom", "offset": -21, "title": null, "values": [0, 60, 120], "labelExpr": "datum.value == 0 ? '09:30' : datum.value == 60 ? '10:30' : '13:00'", "labelAlign": "right", "labelBaseline": "top", "labelColor": "#b81414", "labelFont": "Liberation Sans", "labelFontSize": 12, "labelPadding": 2, "labelOverlap": false}},
   "y": {"datum": 143.6, "type": "quantitative", "axis": {"orient": "left", "offset": -45, "title": null, "values": [127.1, 78.05, 28.97, -20.11], "labelExpr": "format(abs(datum.value), '.4') + '亿'", "labelPadding": 4, "labelFont": "Liberation Sans, Noto Sans CJK SC", "labelFontSize": 12, "labelOverlap": false, "labelColor": {"condition": {"test": "datum.value > 0", "value": "#c81818"}, "value": "#18b418"}}}}},
 {"data": {"values": [{}]}, "mark": {"type": "text", "text": "中单:-11.10亿", "align": "left", "baseline": "middle", "font": "Liberation Sans, Noto Sans CJK SC", "fontSize": 11, "color": "#d0d0d0"},
  "encoding": {
   "x": {"datum": 60.7, "type": "quantitative", "axis": {"orient": "bottom", "offset": -21, "title": null, "values": [0, 60, 120], "labelExpr": "datum.value == 0 ? '09:30' : datum.value == 60 ? '10:30' : '13:00'", "labelAlign": "right", "labelBaseline": "top", "labelColor": "#b81414", "labelFont": "Liberation Sans", "labelFontSize": 12, "labelPadding": 2, "labelOverlap": false}},
   "y": {"datum": 143.6, "type": "quantitative", "axis": {"orient": "left", "offset": -45, "title": null, "values": [127.1, 78.05, 28.97, -20.11], "labelExpr": "format(abs(datum.value), '.4') + '亿'", "labelPadding": 4, "labelFont": "Liberation Sans, Noto Sans CJK SC", "labelFontSize": 12, "labelOverlap": false, "labelColor": {"condition": {"test": "datum.value > 0", "value": "#c81818"}, "value": "#18b418"}}}}},
 {"data": {"values": [{}]}, "mark": {"type": "text", "text": "小单:112.4亿", "align": "left", "baseline": "middle", "font": "Liberation Sans, Noto Sans CJK SC", "fontSize": 11, "color": "#22d022"},
  "encoding": {
   "x": {"datum": 78.1, "type": "quantitative", "axis": {"orient": "bottom", "offset": -21, "title": null, "values": [0, 60, 120], "labelExpr": "datum.value == 0 ? '09:30' : datum.value == 60 ? '10:30' : '13:00'", "labelAlign": "right", "labelBaseline": "top", "labelColor": "#b81414", "labelFont": "Liberation Sans", "labelFontSize": 12, "labelPadding": 2, "labelOverlap": false}},
   "y": {"datum": 143.6, "type": "quantitative", "axis": {"orient": "left", "offset": -45, "title": null, "values": [127.1, 78.05, 28.97, -20.11], "labelExpr": "format(abs(datum.value), '.4') + '亿'", "labelPadding": 4, "labelFont": "Liberation Sans, Noto Sans CJK SC", "labelFontSize": 12, "labelOverlap": false, "labelColor": {"condition": {"test": "datum.value > 0", "value": "#c81818"}, "value": "#18b418"}}}}}
]
}
]
}
